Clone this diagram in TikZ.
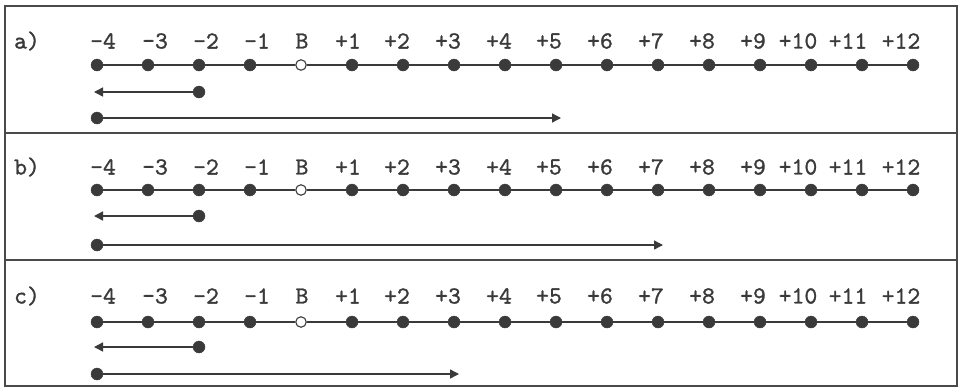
\documentclass[tikz,border=0pt]{standalone}
\usepackage{fontspec}
\newfontfamily\labfont{lmmono10-regular.otf}[FakeBold=1.2]
\usetikzlibrary{arrows.meta}
\definecolor{ink}{HTML}{3A3A3A}
\definecolor{rule}{HTML}{4A4A4A}
\begin{document}
\begin{tikzpicture}[x=1pt,y=-1pt,
  dotfull/.style={circle,fill=ink,draw=ink,inner sep=0pt,minimum size=12pt},
  dotopen/.style={circle,fill=white,draw=ink,line width=1.1pt,inner sep=0pt,minimum size=10.5pt},
  seg/.style={draw=ink,line width=1.4pt},
  arr/.style={draw=ink,line width=1.4pt,-{Triangle[length=9pt,width=9pt]}},
  lab/.style={inner sep=0pt,text=ink,font=\labfont\fontsize{24.5}{29}\selectfont},
  frame/.style={draw=rule,line width=1.6pt}]
\useasboundingbox (0,0) rectangle (960,389);
\fill[white] (0,0) rectangle (960,389);
\draw[frame] (5,6) rectangle (957,386);
\draw[frame] (5,133) -- (957,133);
\draw[frame] (5,260) -- (957,260);
% panels: name / label y / main y / row2 y / row3 y / arrow end index / tag
\foreach \p/\ly/\my/\ry/\sy/\e/\tag in {a/41/65/92/118/9/a),b/167/190/216/245/11/b),c/296/322/347/374/7/c)}{
  \node[lab] (\p-tag) at (27,\ly) {\tag};
  % labels
  \foreach \i/\t/\dx in {0/-4/6,1/-3/7,2/-2/7,3/-1/7,4/B/1,5/+1/-4,6/+2/-6,7/+3/-6,8/+4/-6,9/+5/-7,10/+6/-7,11/+7/-7,12/+8/-7,13/+9/-7,14/+10/-13,15/+11/-14,16/+12/-12}{
    \node[lab] (\p-l\i) at ({97+51*\i+\dx},\ly) {\t};
  }
  % main row dots
  \foreach \i in {0,...,16}{
    \ifnum\i=4
      \node[dotopen] (\p\i) at ({97+51*\i},\my) {};
    \else
      \node[dotfull] (\p\i) at ({97+51*\i},\my) {};
    \fi
  }
  \foreach \i [evaluate=\i as \j using int(\i+1)] in {0,...,15}{
    \draw[seg] (\p\i) -- (\p\j);
  }
  % row 2: from -2 back to -4
  \node[dotfull] (\p-r2) at (199,\ry) {};
  \coordinate (\p-r2end) at (94,\ry);
  \draw[arr] (\p-r2) -- (\p-r2end);
  % row 3: from -4 forward
  \node[dotfull] (\p-r3) at (97,\sy) {};
  \coordinate (\p-r3end) at ({97+51*\e+5},\sy);
  \draw[arr] (\p-r3) -- (\p-r3end);
}
\end{tikzpicture}
\end{document}
